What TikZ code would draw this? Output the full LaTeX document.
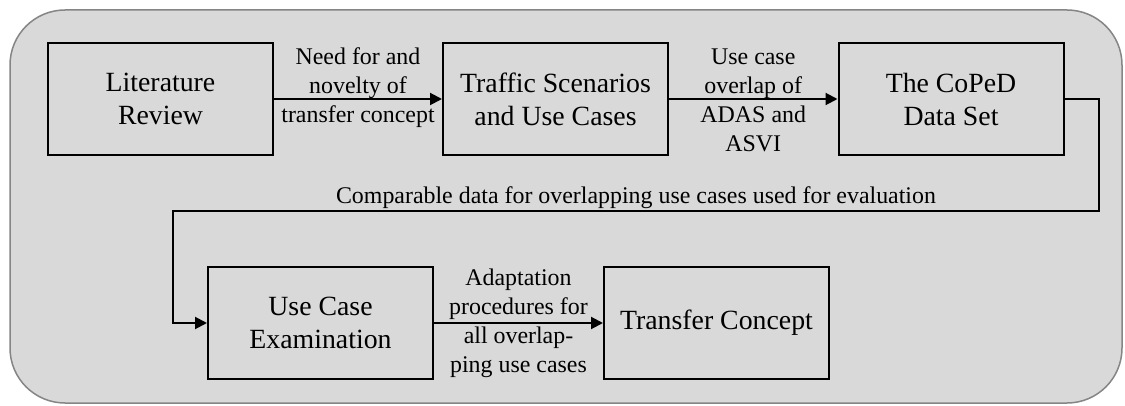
\documentclass[tikz,border=0pt]{standalone}
\usepackage{fontspec}
\setmainfont{Liberation Serif}
\usetikzlibrary{arrows.meta}
\definecolor{bgfill}{HTML}{D9D9D9}
\definecolor{bgline}{HTML}{858585}
\begin{document}
\begin{tikzpicture}[x=1pt,y=-1pt,
  stepbox/.style={draw=black, line width=2pt, minimum width=225pt, minimum height=112pt,
    inner sep=0pt, align=center, font=\fontsize{27.8}{33}\selectfont},
  lbl/.style={align=center, inner sep=0pt, font=\fontsize{23.9}{29}\selectfont},
  arr/.style={line width=2pt, -{Triangle[length=12pt,width=12pt]}}]
\useasboundingbox (0,0) rectangle (1125,406);
\draw[fill=bgfill, draw=bgline, line width=1.5pt, rounded corners=55pt] (10,10) rectangle (1122,403);
\node[stepbox] (lit) at (160.5,99) {Literature\\Review};
\node[stepbox] (tsc) at (555.5,99) {Traffic Scenarios\\and Use Cases};
\node[stepbox] (cop) at (951,99) {The CoPeD\\Data Set};
\node[stepbox] (uce) at (320.5,323) {Use Case\\Examination};
\node[stepbox] (tc) at (716.5,323) {Transfer Concept};
\coordinate (b1) at (1099,99);
\coordinate (b2) at (1099,211);
\coordinate (b3) at (173,211);
\coordinate (b4) at (173,323);
\draw[arr] (lit) -- node[lbl, yshift=11pt] {Need for and\\novelty of\\transfer concept} (tsc);
\draw[arr] (tsc) -- node[lbl, yshift=-1pt] {Use case\\overlap of\\ADAS and\\ASVI} (cop);
\draw[arr] (cop.east) -- (b1) -- (b2) -- node[lbl, above=1pt] {Comparable data for overlapping use cases used for evaluation} (b3) -- (b4) -- (uce.west);
\draw[arr] (uce) -- node[lbl] {Adaptation\\procedures for\\all overlap-\\ping use cases} (tc);
\end{tikzpicture}
\end{document}
